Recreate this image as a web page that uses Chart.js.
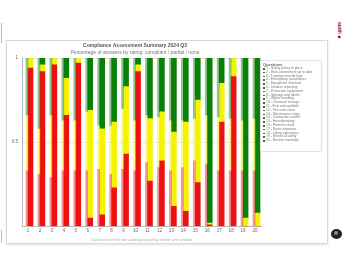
<!DOCTYPE html>
<html>
<head>
<meta charset="utf-8">
<script src="https://cdn.jsdelivr.net/npm/chart.js@4.4.0/dist/chart.umd.min.js"></script>
<style>
    body { margin: 0; background: #fff; width: 347px; height: 260px; overflow: hidden; position: relative; font-family: "Liberation Sans", Arial, sans-serif; }
    #card { position: absolute; left: 6px; top: 40px; width: 320px; height: 202px; border: 1px solid #d8d8d8; box-shadow: 0 1px 2px rgba(0,0,0,0.12); background: #fff; }
    #wrap { position: absolute; left: 7px; top: 41px; width: 255px; height: 201px; }
    #legend { position: absolute; left: 260px; top: 60px; width: 62px; height: 92px; border: 1px solid #e2e2e2; padding: 1px 1px 0 2px; box-sizing: border-box; overflow: hidden; }
    #legend .ttl { font-size: 4px; color: #666; font-weight: bold; line-height: 5px; }
    #legend .it { font-size: 3.4px; line-height: 3.8px; color: #777; padding-left: 3px; position: relative; }
    #legend .it i { position: absolute; left: 0; top: 1px; width: 1.6px; height: 1.6px; background: #555; }
    .edge { position: absolute; left: 1px; width: 1px; background: #bbb; }
    #logo { position: absolute; left: 337px; top: 22px; font-size: 5px; color: #8b1a1a; transform: rotate(90deg) translateY(-100%); transform-origin: left top; white-space: nowrap; font-weight: bold; }
    #help { position: absolute; left: 331px; top: 229px; width: 11px; height: 10px; border-radius: 50%; background: #222; }
    #help:after { content: ""; position: absolute; left: 3px; top: 2px; width: 4px; height: 4px; border-radius: 50%; background: #888; }
</style>
</head>
<body>
<div class="edge" style="top:23px;height:20px"></div>
<div class="edge" style="top:230px;height:13px"></div>
<div id="logo">audit &#9632;</div>
<div id="help"></div>
<div id="card"></div>
<div id="wrap"><canvas id="BarChart"></canvas></div>
<div id="legend"></div>

<script>
// categories (question numbers)
const labels = ['1', '2', '3', '4', '5', '6', '7', '8', '9', '10',
    '11', '12', '13', '14', '15', '16', '17', '18', '19', '20'];

// legend text for each question
const legendText = [
    '1 - Safety policy in place',
    '2 - Risk assessment up to date',
    '3 - Training records kept',
    '4 - Emergency procedures',
    '5 - Equipment checked',
    '6 - Incident reporting',
    '7 - Protective equipment',
    '8 - Signage and labels',
    '9 - Waste handling',
    '10 - Chemical storage',
    '11 - First aid available',
    '12 - Fire exits clear',
    '13 - Maintenance logs',
    '14 - Contractor control',
    '15 - Housekeeping',
    '16 - Permit to work',
    '17 - Noise exposure',
    '18 - Lifting operations',
    '19 - Electrical safety',
    '20 - Review meetings'
];

// previous period (narrow left bar), percent
const prevRed    = [33, 31, 29, 33, 33, 33, 34, 31, 34, 33, 38, 35, 33, 35, 39, 37, 33, 33, 33, 33];
const prevYellow = [33, 27, 37, 30, 30, 35, 26, 29, 36, 30, 28, 30, 30, 28, 25, 29, 32, 31, 30, 31];
const prevGreen  = [34, 42, 34, 37, 37, 32, 40, 40, 30, 37, 34, 35, 37, 37, 36, 34, 35, 36, 37, 36];

// current period, percent
const curRed    = [94, 92, 96, 66, 97, 5, 7, 23, 43, 92, 27, 39, 12, 9, 26, 1, 62, 89, 0, 0];
const curYellow = [6, 4, 4, 22, 3, 64, 51, 39, 40, 4, 37, 29, 44, 53, 49, 1, 23, 11, 5, 8];
const curGreen  = [0, 4, 0, 12, 0, 31, 42, 38, 17, 4, 36, 32, 44, 38, 25, 98, 15, 0, 95, 92];

const yTicks = [0, 50, 100];
const yTickText = ['', '0.5', '1'];

const red = '#ee1111';
const yellow = '#f4f400';
const green = '#0a7f0a';
const redFaint = 'rgba(238,17,17,0.45)';
const yellowFaint = 'rgba(244,244,0,0.45)';
const greenFaint = 'rgba(10,127,10,0.45)';

function makeSet(name, values, color, stack, thick) {
    return {
        label: name,
        data: values,
        backgroundColor: color,
        borderWidth: 0,
        stack: stack,
        barThickness: thick
    };
}

const data_bars = {
    labels: labels,
    datasets: [
        makeSet('Non compliant (prev)', prevRed, redFaint, 'prev', 2),
        makeSet('Partial (prev)', prevYellow, yellowFaint, 'prev', 2),
        makeSet('Compliant (prev)', prevGreen, greenFaint, 'prev', 2),
        makeSet('Non compliant', curRed, red, 'cur', 5),
        makeSet('Partial', curYellow, yellow, 'cur', 5),
        makeSet('Compliant', curGreen, green, 'cur', 5)
    ]
};

const config_bars = {
    type: 'bar',
    data: data_bars,
    options: {
        responsive: true,
        maintainAspectRatio: false,
        animation: false,
        layout: {
            padding: { left: 2, right: 1, top: 0, bottom: 0 }
        },
        plugins: {
            legend: { display: false },
            tooltip: { enabled: false },
            title: {
                display: true,
                text: 'Compliance Assessment Summary 2024 Q3',
                color: '#555',
                font: { size: 5, weight: 'bold', family: 'Liberation Sans' },
                padding: { top: 1.5, bottom: 1 }
            },
            subtitle: {
                display: true,
                text: 'Percentage of answers by rating: compliant / partial / none',
                color: '#777',
                font: { size: 5, family: 'Liberation Sans' },
                padding: { top: 0, bottom: 2.5 }
            }
        },
        scales: {
            x: {
                stacked: true,
                grid: { display: false, drawTicks: false },
                border: { color: '#bbb' },
                ticks: { color: '#666', font: { size: 4.5, family: 'Liberation Sans' }, padding: 2, maxRotation: 0, autoSkip: false },
                title: { display: true, text: 'Questions of the site audit grouped by theme and section', color: '#aaa', font: { size: 4, family: 'Liberation Sans' }, padding: 0 },
                afterFit: function (axis) { axis.height = 15.5; }
            },
            y: {
                stacked: true,
                min: 0,
                max: 100,
                afterBuildTicks: function (axis) {
                    axis.ticks = yTicks.map(v => ({ value: v }));
                },
                grid: { color: '#e8e8e8', drawTicks: false },
                border: { color: '#bbb' },
                ticks: {
                    color: '#666',
                    font: { size: 4.5, family: 'Liberation Sans' },
                    padding: 4,
                    callback: function (v) { return yTickText[yTicks.indexOf(v)]; }
                },
                afterFit: function (axis) { axis.width = 13; }
            }
        }
    }
};

var BarChart = new Chart(
    document.getElementById('BarChart'),
    config_bars
);

function load_legend() {
    let box = document.getElementById('legend');
    let t = document.createElement('div');
    t.className = 'ttl';
    t.textContent = 'Questions';
    box.appendChild(t);
    for (let i = 0; i < legendText.length; i++) {
        let row = document.createElement('div');
        row.className = 'it';
        row.innerHTML = '<i></i>';
        row.appendChild(document.createTextNode(legendText[i]));
        box.appendChild(row);
    }
}

load_legend();
</script>
</body>
</html>
